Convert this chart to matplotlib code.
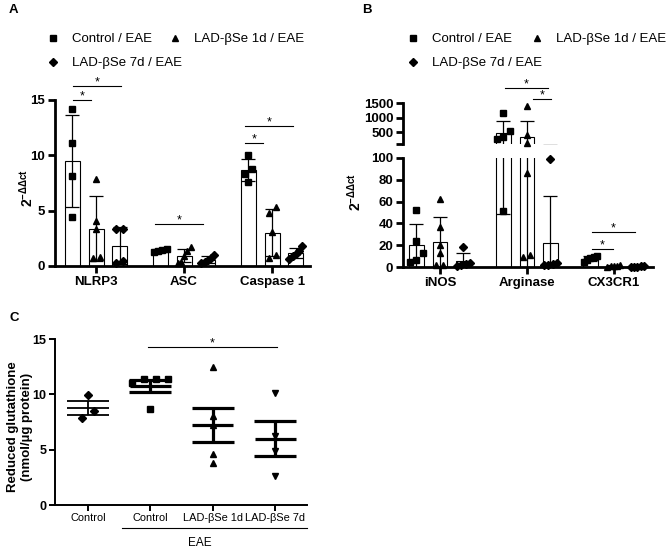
import numpy as np
import matplotlib.pyplot as plt
from matplotlib.lines import Line2D

plt.rcParams['font.family'] = ['Liberation Sans', 'DejaVu Sans']

# ---- panel A: inflammasome genes, 2^-ddct per animal
a_genes = ['NLRP3', 'ASC', 'Caspase 1']
a_ctrl = [[14.2, 11.15, 8.15, 4.45], [1.5, 1.45, 1.35, 1.25], [10.0, 8.8, 8.3, 7.6]]
a_1d = [[7.9, 4.1, 3.3, 0.85, 0.75], [1.7, 1.4, 0.9, 0.4, 0.3], [5.35, 4.8, 3.1, 1.0, 0.7]]
a_7d = [[3.3, 3.3, 0.3, 0.45], [1.0, 0.75, 0.5, 0.35, 0.25], [1.8, 1.4, 1.1, 0.9, 0.6]]

# ---- panel B: microglia markers
b_genes = ['iNOS', 'Arginase', 'CX3CR1']
b_ctrl = [[52, 24, 12.5, 4.3, 6.4], [1150, 330, 555, 260, 51], [10, 9, 8, 6, 5]]
b_1d = [[62, 37, 20, 13, 2, 2], [1405, 405, 145, 86, 9.5, 11], [1.5, 1.2, 1.0, 0.6, 0.4]]
b_7d = [[18, 4, 3, 2, 1], [99, 4, 3, 2, 2], [0.5, 0.5, 0.4, 0.4, 0.3]]

legend_labels = ['Control / EAE', 'LAD-βSe 1d / EAE', 'LAD-βSe 7d / EAE']
bar_markers = ['s', '^', 'D']

# ---- panel C: reduced glutathione
c_labels = ['Control', 'Control', 'LAD-βSe 1d', 'LAD-βSe 7d']
c_vals = [[9.95, 7.9, 8.45], [11.35, 11.35, 11.05, 11.35, 8.7],
          [12.5, 8.0, 7.2, 4.6, 3.8], [10.15, 6.25, 4.9, 2.65]]
c_markers = ['D', 's', '^', 'v']

# marker sizes so the shapes look about the same on screen
MS = {'s': 4.2, '^': 4.6, 'v': 4.6, 'D': 3.6}

W, H = 667, 549
fig = plt.figure(figsize=(W / 100, H / 100), dpi=100)


def box(l, t, r, b):
    # pixel box (from top-left) -> figure fraction rect
    return [l / W, 1 - b / H, (r - l) / W, (b - t) / H]


axA = fig.add_axes(box(55, 100, 310, 266))
axBt = fig.add_axes(box(403, 103, 653, 144))
axBb = fig.add_axes(box(403, 158, 653, 267), sharex=axBt)
axC = fig.add_axes(box(55, 339, 307, 505))

axA.set_xlim(-0.466, 2.43)
axA.set_ylim(0, 15)
axBb.set_xlim(-0.425, 2.45)
axBb.set_ylim(0, 100)
axBt.set_ylim(100, 1500)
axC.set_xlim(-0.53, 3.51)
axC.set_ylim(0, 15)


def spread(ypx, px_per_x, step_px, max_px, near_px=7):
    # push overlapping dots sideways like a prism scatter
    ypx = np.asarray(ypx)
    offs = np.zeros(len(ypx))
    order = np.argsort(ypx)
    groups, cur = [], [order[0]]
    for i in order[1:]:
        if ypx[i] - ypx[cur[-1]] < near_px:
            cur.append(i)
        else:
            groups.append(cur)
            cur = [i]
    groups.append(cur)
    for g in groups:
        n = len(g)
        step = step_px if n < 2 else min(step_px, max_px / (n - 1))
        for k, i in enumerate(g):
            offs[i] = (k - (n - 1) / 2) * step / px_per_x
    return offs


def xscale(ax):
    return ax.transData.transform((1, 0))[0] - ax.transData.transform((0, 0))[0]


def ypix(ax, vals):
    return ax.transData.transform(np.column_stack([np.zeros(len(vals)), vals]))[:, 1]


def bar_panel(axes, groups, ctrl, d1, d7, split=None):
    offsets = [-0.27, 0.0, 0.27]
    bw = 0.17
    ppx = xscale(axes[-1])
    for gi in range(len(groups)):
        for si, vals in enumerate([ctrl[gi], d1[gi], d7[gi]]):
            vals = np.asarray(vals, float)
            x = gi + offsets[si]
            m, s = vals.mean(), vals.std(ddof=1)
            for ax in axes:
                ax.bar(x, m, width=bw, facecolor='white', edgecolor='black', lw=0.8, zorder=1)
                ax.errorbar(x, m, yerr=s, fmt='none', ecolor='black', elinewidth=0.9,
                            capsize=5, capthick=0.9, zorder=2)
            # broken axis in B: big values go to the top part (index 0)
            if split is None:
                where = np.zeros(len(vals), int)
            else:
                where = np.where(vals > split, 0, 1)
            ypx = np.array([ypix(axes[w], [v])[0] for w, v in zip(where, vals)])
            offs = spread(ypx, ppx, 7, 13)
            mk = bar_markers[si]
            for w in set(where):
                sel = where == w
                axes[w].plot(x + offs[sel], vals[sel], ls='none', marker=mk,
                             ms=MS[mk], color='black', zorder=3, clip_on=False)


def sig(ax, x0, x1, y, lw=0.8):
    ax.plot([x0, x1], [y, y], color='black', lw=lw, clip_on=False)
    ax.annotate('*', ((x0 + x1) / 2, y), xytext=(0, 0.5), textcoords='offset points',
                ha='center', va='baseline', fontsize=9, annotation_clip=False)


def style_axis(ax, lw=2.0, tlen=5, fs=9.5):
    for sp in ['top', 'right']:
        ax.spines[sp].set_visible(False)
    for sp in ['left', 'bottom']:
        ax.spines[sp].set_linewidth(lw)
    ax.tick_params(width=lw, length=tlen, labelsize=fs, pad=2)


# ---------------- panel A
bar_panel([axA], a_genes, a_ctrl, a_1d, a_7d)
style_axis(axA)
axA.set_xticks(range(3))
axA.set_xticklabels(a_genes)
axA.set_yticks([0, 5, 10, 15])
plt.setp(axA.get_xticklabels() + axA.get_yticklabels(), fontweight='bold')
sig(axA, -0.26, -0.06, 15.0)
sig(axA, -0.26, 0.28, 16.25)
sig(axA, 0.67, 1.22, 3.8)
sig(axA, 1.69, 1.90, 11.1)
sig(axA, 1.69, 2.24, 12.65)

# ---------------- panel B (broken y axis)
bar_panel([axBt, axBb], b_genes, b_ctrl, b_1d, b_7d, split=100)
style_axis(axBb)
style_axis(axBt)
axBt.spines['bottom'].set_visible(False)
axBt.tick_params(axis='x', bottom=False, labelbottom=False)
axBb.set_xticks(range(3))
axBb.set_xticklabels(b_genes)
axBb.set_yticks([0, 20, 40, 60, 80, 100])
axBt.set_yticks([100, 500, 1000, 1500])
axBt.set_yticklabels(['', '500', '1000', '1500'])
plt.setp(axBb.get_xticklabels() + axBb.get_yticklabels() + axBt.get_yticklabels(),
         fontweight='bold')
sig(axBt, 0.75, 1.24, 2000)
sig(axBt, 1.07, 1.28, 1625)
sig(axBb, 1.75, 1.99, 16.2)
sig(axBb, 1.75, 2.24, 31.8)

# ---------------- panel C (scatter, mean +/- SEM)
style_axis(axC, lw=1.4, tlen=4, fs=9)
ppx = xscale(axC)
for gi, vals in enumerate(c_vals):
    vals = np.asarray(vals, float)
    m = vals.mean()
    sem = vals.std(ddof=1) / np.sqrt(len(vals))
    lw = 1.3 if gi == 0 else 2.3
    axC.hlines(m, gi - 0.33, gi + 0.33, color='black', lw=lw, zorder=2)
    axC.errorbar(gi, m, yerr=sem, fmt='none', ecolor='black', elinewidth=lw,
                 capsize=15, capthick=lw, zorder=2)
    offs = spread(ypix(axC, vals), ppx, 12, 40)
    mk = c_markers[gi]
    axC.plot(gi + offs, vals, ls='none', marker=mk, ms=MS[mk] + 0.4, color='black', zorder=3)
axC.set_xticks(range(4))
axC.set_xticklabels(c_labels, fontsize=7.9)
axC.set_yticks([0, 5, 10, 15])
plt.setp(axC.get_yticklabels(), fontweight='bold')
sig(axC, 0.96, 3.03, 14.27)
xt = axC.get_xaxis_transform()
axC.plot([0.55, 3.51], [-0.14, -0.14], transform=xt, color='black', lw=0.8, clip_on=False)
fig.text(200 / W, 1 - 546 / H, 'EAE', ha='center', va='baseline', fontsize=8.5)

# ---------------- y labels
fig.text(27 / W, 1 - 188 / H, r'2$^{\mathregular{-\Delta\Delta ct}}$', rotation=90,
         ha='center', va='center', fontsize=10, fontweight='bold')
fig.text(355 / W, 1 - 192 / H, r'2$^{\mathregular{-\Delta\Delta ct}}$', rotation=90,
         ha='center', va='center', fontsize=10, fontweight='bold')
fig.text(20 / W, 1 - 427 / H, 'Reduced glutathione\n(nmol/µg protein)', rotation=90,
         ha='center', va='center', fontsize=9.5, fontweight='bold', multialignment='center')

# ---------------- legends (drawn by hand, prism-style)
for left, second in [(53, 175), (413, 537)]:
    spots = [(left, 38), (second, 38), (left, 62)]
    for (mx, my), mk, lab in zip(spots, bar_markers, legend_labels):
        fig.add_artist(Line2D([mx / W], [1 - my / H], marker=mk, ms=MS[mk], color='black',
                              ls='none', transform=fig.transFigure))
        fig.text((mx + 19) / W, 1 - (my + 4) / H, lab, fontsize=9.5, va='baseline')

# panel letters
for lab, x, y in [('A', 9, 13), ('B', 362, 13), ('C', 10, 321)]:
    fig.text(x / W, 1 - y / H, lab, fontsize=9.5, fontweight='bold', va='baseline')

fig.savefig('out.png', dpi=100)
